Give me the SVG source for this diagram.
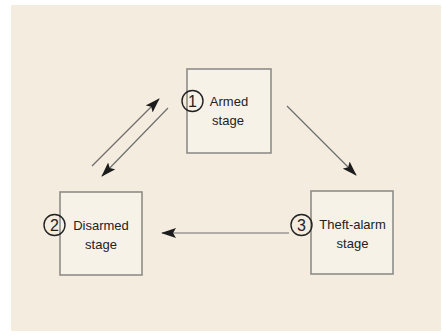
<svg xmlns="http://www.w3.org/2000/svg" width="442" height="336" viewBox="0 0 442 336">
  <style>
    .box { fill: #F7F2E8; stroke: #8E8C88; stroke-width: 1.6; }
    .lbl { font-family: "Liberation Sans", Arial, sans-serif; font-size: 13px; fill: #222; text-anchor: middle; }
    .num { font-family: "Liberation Sans", Arial, sans-serif; font-size: 16px; fill: #222; text-anchor: middle; }
    .ring { fill: none; stroke: #222; stroke-width: 1.4; }
    .conn { stroke: #6E6E6E; stroke-width: 1.2; fill: none; marker-end: url(#ah); }
  </style>
  <defs>
    <marker id="ah" markerUnits="userSpaceOnUse" markerWidth="15" markerHeight="10" viewBox="0 0 15 10" refX="14" refY="5" orient="auto">
      <path d="M0,0 L15,5 L0,10 L3,5 z" fill="#1C1C1C"/>
    </marker>
  </defs>
  <rect x="0" y="0" width="442" height="336" fill="#FFFFFF"/>
  <rect x="11" y="5" width="430" height="326" fill="#F4EDDF"/>

  <g id="armed">
    <rect class="box" x="187" y="69" width="84" height="84"/>
    <circle class="ring" cx="192.5" cy="101" r="10.5"/>
    <text class="num" x="192.5" y="106.8">1</text>
    <text class="lbl" x="229" y="106">Armed</text>
    <text class="lbl" x="228" y="125">stage</text>
  </g>

  <g id="disarmed">
    <rect class="box" x="60" y="192" width="82" height="83"/>
    <circle class="ring" cx="54.5" cy="225" r="10.5"/>
    <text class="num" x="54.5" y="230.8">2</text>
    <text class="lbl" x="101" y="230">Disarmed</text>
    <text class="lbl" x="101" y="249">stage</text>
  </g>

  <g id="theft">
    <rect class="box" x="311" y="191" width="82" height="83"/>
    <circle class="ring" cx="301.5" cy="225" r="10.5"/>
    <text class="num" x="301.5" y="230.8">3</text>
    <text class="lbl" x="352.5" y="229">Theft-alarm</text>
    <text class="lbl" x="352.5" y="248">stage</text>
  </g>

  <g id="connectors">
    <line class="conn" x1="92" y1="166" x2="159" y2="99"/>
    <line class="conn" x1="168" y1="108" x2="102" y2="176"/>
    <line class="conn" x1="287" y1="106" x2="356" y2="175"/>
    <line class="conn" x1="289" y1="233" x2="162" y2="233"/>
  </g>
</svg>
